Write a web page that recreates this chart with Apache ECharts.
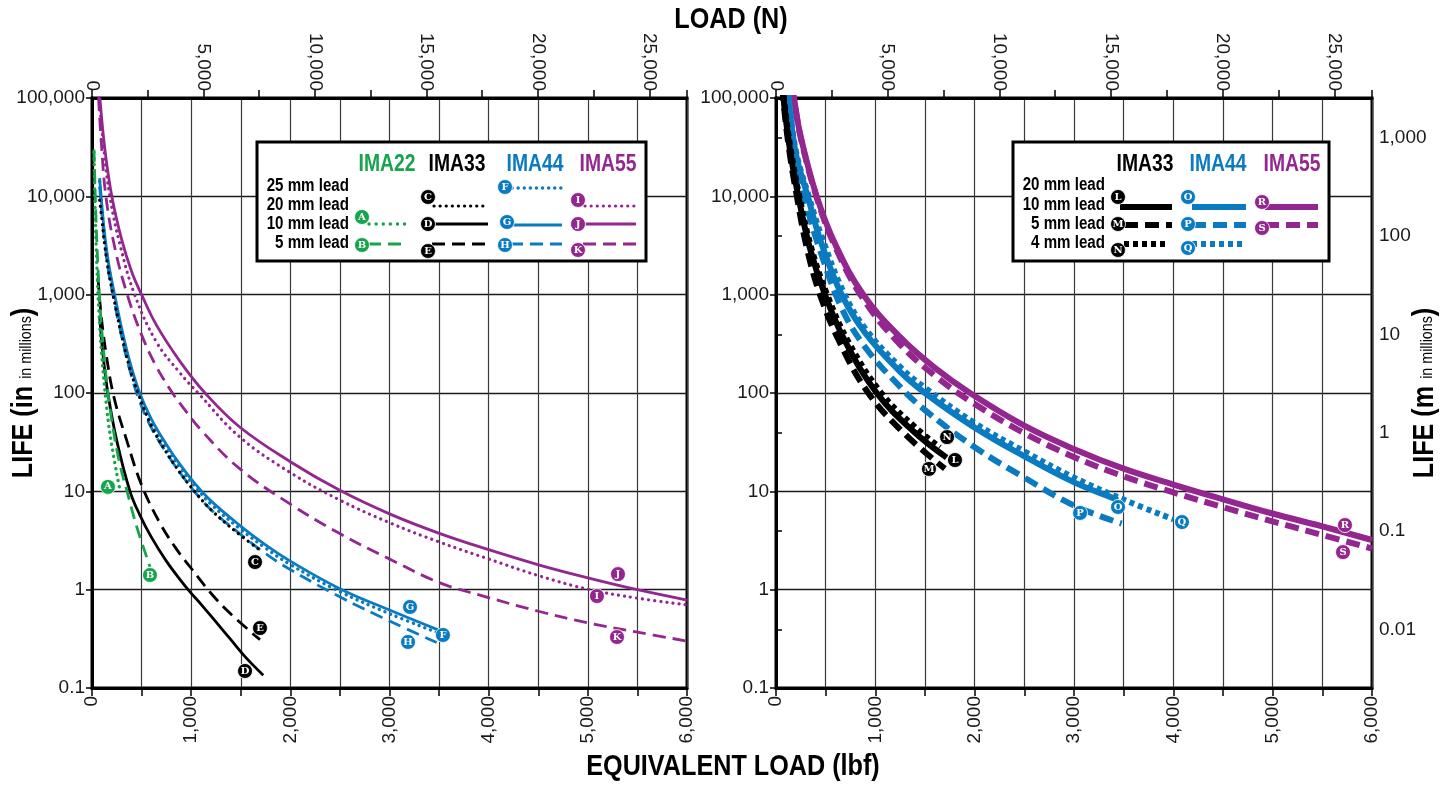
<!DOCTYPE html>
<html><head><meta charset="utf-8">
<script src="https://cdn.jsdelivr.net/npm/echarts@6/dist/echarts.min.js"></script>
<style>html,body{margin:0;padding:0;background:#fff}#c{width:1446px;height:786px}</style>
</head><body><div id="c"></div>
<script>
// ---------- DATA (equivalent load lbf, life in millions of inches) ----------
const lbfRange = [0, 6000];
const lifeRange = [0.1, 100000];
const LBF_TO_N = 4.44822;
const IN_TO_M = 0.0254;

// Left chart
const curveA = [[20,28000],[30,8500],[40,3600],[60,1050],[80,450],[100,230],[150,68],[200,29],[280,10.5]];            // IMA22 10 mm
const curveB = [[20,30000],[30,13000],[40,6000],[60,1900],[80,800],[100,420],[150,125],[200,52],[280,19],[350,10.3],[450,4.4],[585,1.71]]; // IMA22 5 mm
const curveC = [[77,9100],[100,5800],[128,3200],[170,1650],[212,1000],[300,380],[380,180],[464,100],[600,46],[750,25],[887,15.5],[1038,9.9],[1200,6.5],[1450,3.9],[1677,2.6]]; // IMA33 20 mm
const curveD = [[77,600],[110,250],[160,100],[249,33],[383,10],[484,5.7],[600,3.4],[750,1.95],[900,1.22],[988,0.95],[1100,0.71],[1250,0.47],[1400,0.31],[1550,0.205],[1727,0.135]]; // IMA33 10 mm
const curveE = [[60,1500],[90,650],[140,260],[220,92],[350,33],[500,11.6],[686,4.73],[850,2.6],[988,1.71],[1200,0.92],[1392,0.575],[1694,0.31]]; // IMA33 5 mm
const curveF = [[77,14200],[100,7400],[128,3800],[170,1860],[228,930],[300,420],[380,195],[481,93],[600,50],[750,28],[887,17.5],[1038,11.2],[1200,7.4],[1486,4.2],[1750,2.65],[2000,1.8],[2494,0.96],[3000,0.57],[3500,0.36]]; // IMA44 25 mm
const curveG = [[77,15300],[100,8000],[128,4100],[170,2000],[228,1000],[300,450],[380,210],[481,100],[600,54],[750,30],[887,18.8],[1038,12.0],[1200,8.0],[1486,4.54],[1750,2.85],[2000,1.95],[2494,1.03],[3000,0.62],[3490,0.39]]; // IMA44 10 mm
const curveH = [[77,12500],[100,6600],[128,3400],[170,1650],[228,820],[300,370],[380,172],[481,82],[600,44],[750,24.5],[887,15.5],[1038,9.8],[1200,6.5],[1486,3.74],[1750,2.33],[2000,1.6],[2494,0.85],[3000,0.48],[3476,0.29]]; // IMA44 5 mm
const curveI = [[72,100000],[120,30000],[180,10000],[280,3300],[430,1000],[650,330],[887,160],[1070,100],[1486,36],[2000,15.5],[2494,8.2],[3000,4.8],[3502,3.05],[4000,2.05],[4511,1.38],[5020,1.0],[5500,0.82],[6000,0.70]]; // IMA55 20 mm
const curveJ = [[80,100000],[130,30000],[200,10000],[300,3600],[400,1710],[500,1000],[650,490],[887,210],[1140,100],[1486,45.4],[2000,20],[2494,10.3],[3000,5.9],[3502,3.74],[4000,2.55],[4511,1.78],[5000,1.32],[5500,1.0],[6000,0.785]]; // IMA55 10 mm
const curveK = [[66,100000],[95,34000],[140,10000],[230,3000],[356,1000],[500,390],[650,185],[811,100],[887,78.5],[1100,42],[1486,17.1],[2000,7.4],[2494,3.74],[3000,2.05],[3502,1.18],[3912,0.88],[4511,0.6],[5000,0.46],[5500,0.37],[6000,0.30]]; // IMA55 5 mm

// Right chart
const curveL = [[70,130000],[80,90000],[140,30000],[225,10000],[340,3000],[493,1000],[700,330],[1014,100],[1380,41],[1718,22]];   // IMA33 10 mm
const curveM = [[66,130000],[76,90000],[132,30000],[210,10000],[310,3000],[443,1000],[640,330],[929,100],[1300,38],[1700,17]];    // IMA33 5 mm
const curveN = [[73,130000],[84,90000],[148,30000],[235,10000],[355,3000],[515,1000],[730,330],[1060,100],[1400,45],[1650,28]];   // IMA33 4 mm
const curveO = [[115,130000],[124,100000],[200,27000],[320,10000],[450,3500],[661,1000],[900,405],[1248,165],[1500,100],[1993,45],[2500,22.7],[2997,12.4],[3396,8.5],[3440,8.1]]; // IMA44 10 mm
const curveP = [[112,130000],[121,100000],[200,21000],[320,7200],[450,2700],[661,730],[900,290],[1248,116],[1500,67],[1993,28.4],[2500,13.8],[2997,7.2],[3480,4.7]]; // IMA44 5 mm
const curveQ = [[118,130000],[128,100000],[200,29000],[330,10000],[460,3900],[680,1060],[900,450],[1248,185],[1500,113],[1993,50],[2500,25.5],[3000,13.8],[3530,8.0],[4000,5.2]]; // IMA44 4 mm
const curveR = [[165,130000],[181,100000],[250,40000],[410,10000],[600,3200],[879,1000],[1250,370],[1600,180],[1953,100],[2500,46.5],[2997,27],[3500,17.0],[3993,11.8],[4500,8.3],[4997,5.95],[5500,4.4],[6000,3.2]]; // IMA55 10 mm
const curveS = [[165,128000],[181,97000],[250,39000],[410,9700],[600,3000],[879,900],[1250,310],[1600,150],[1953,83],[2500,39],[2997,22.4],[3500,14.2],[3993,9.8],[4500,6.9],[4997,4.95],[5500,3.6],[6000,2.62]]; // IMA55 5 mm

// Letter tags placed at (lbf, life)
const leftTags = [['A',161,11.1],['B',585,1.41],['C',1644,1.91],['D',1543,0.149],['E',1694,0.407],
  ['F',3539,0.346],['G',3207,0.667],['H',3187,0.294],['I',5092,0.861],['J',5304,1.44],['K',5294,0.33]];
const rightTags = [['L',1802,20.8],['M',1540,16.9],['N',1722,35.6],['O',3443,6.93],['P',3061,6.03],
  ['Q',4087,4.87],['R',5728,4.54],['S',5708,2.41]];

// ---------- STYLE ----------
const FONT = "'Liberation Sans','Arial',sans-serif";
const SERIF = "'DejaVu Serif','Liberation Serif',serif";
const GREEN = '#17a44c', BLACK = '#000000', BLUE = '#0a7bc0', PURPLE = '#93278f';
const tagColor = {A:GREEN,B:GREEN,C:BLACK,D:BLACK,E:BLACK,F:BLUE,G:BLUE,H:BLUE,I:PURPLE,J:PURPLE,K:PURPLE,
  L:BLACK,M:BLACK,N:BLACK,O:BLUE,P:BLUE,Q:BLUE,R:PURPLE,S:PURPLE};
const LABEL_SIZE = 19;

function fmtNum(v){
  if (v >= 1) return String(Math.round(v)).replace(/\B(?=(\d{3})+(?!\d))/g, ',');
  return String(+v.toPrecision(2));
}
function isDecade(v){ const l = Math.log10(v); return Math.abs(l - Math.round(l)) < 1e-6; }

const chart = echarts.init(document.getElementById('c'), null, {renderer:'canvas'});

const GL = {left:92, top:98, width:595, height:590};
const GR = {left:776, top:98, width:596, height:590};

function xBottom(gi){
  return {gridIndex:gi, type:'value', position:'bottom', min:lbfRange[0], max:lbfRange[1], interval:500,
    axisLine:{show:true, onZero:false, lineStyle:{color:'#000', width:3}},
    axisTick:{show:true, length:8, lineStyle:{color:'#000', width:1.5}},
    axisLabel:{rotate:90, margin:8, fontFamily:FONT, fontSize:LABEL_SIZE, color:'#1a1a1a',
      formatter:v => (v % 1000 === 0 ? fmtNum(v) : '')},
    splitLine:{show:true, lineStyle:{color:'#3a3a3a', width:1.2}}};
}
function xTop(gi){
  return {gridIndex:gi, type:'value', position:'top', min:0, max:lbfRange[1]*LBF_TO_N, interval:2500,
    axisLine:{show:true, onZero:false, lineStyle:{color:'#000', width:3}},
    axisTick:{show:true, length:8, lineStyle:{color:'#000', width:1.5}},
    axisLabel:{rotate:90, margin:7, fontFamily:FONT, fontSize:LABEL_SIZE, color:'#1a1a1a',
      formatter:v => (Math.abs(v % 5000) < 1e-6 ? fmtNum(v) : '')},
    splitLine:{show:false}};
}
function yLeft(gi){
  return {gridIndex:gi, type:'log', logBase:10, min:lifeRange[0], max:lifeRange[1], position:'left',
    axisLine:{show:true, onZero:false, lineStyle:{color:'#000', width:3}},
    axisTick:{show:true, length:6, lineStyle:{color:'#000', width:1.5}},
    axisLabel:{margin:7, fontFamily:FONT, fontSize:LABEL_SIZE, color:'#1a1a1a', formatter:v => isDecade(v) ? fmtNum(v) : ''},
    splitLine:{show:true, lineStyle:{color:'#1a1a1a', width:1.3}}};
}

const option = {
  animation:false,
  backgroundColor:'#fff',
  grid:[Object.assign({show:true, borderColor:'#000', borderWidth:3, backgroundColor:'#fff', outerBoundsMode:'none'}, GL),
        Object.assign({show:true, borderColor:'#000', borderWidth:3, backgroundColor:'#fff', outerBoundsMode:'none'}, GR)],
  xAxis:[xBottom(0), xTop(0), xBottom(1), xTop(1)],
  yAxis:[
    yLeft(0),
    {gridIndex:0, type:'log', logBase:10, min:lifeRange[0], max:lifeRange[1], position:'right',
      axisLine:{show:true, lineStyle:{color:'#000', width:3}}, axisTick:{show:false}, axisLabel:{show:false}, splitLine:{show:false}},
    yLeft(1),
    {gridIndex:1, type:'log', logBase:10, min:lifeRange[0]*IN_TO_M, max:lifeRange[1]*IN_TO_M, position:'right',
      axisLine:{show:true, lineStyle:{color:'#000', width:3}},
      axisTick:{show:true, length:6, lineStyle:{color:'#000', width:1.5}},
      axisLabel:{margin:7, fontFamily:FONT, fontSize:LABEL_SIZE, color:'#1a1a1a', formatter:v => isDecade(v) ? fmtNum(v) : ''},
      splitLine:{show:false}}
  ],
  graphic:[],
  series:[]
};

// ----- curves -----
const DOT_L = [0.1, 6], DASH_L = [13, 7];
const DOT_R = [5, 4], DASH_R = [14, 7];
function curve(data, gi, color, width, dash, cap){
  return {type:'line', xAxisIndex:gi*2, yAxisIndex:gi*2, data:data, smooth:0.4, symbol:'none', showSymbol:false,
    silent:true, clip:true, z:3,
    lineStyle:{color:color, width:width, type:dash || 'solid', cap:cap || 'butt', join:'round'}};
}
option.series.push(
  curve(curveK, 0, PURPLE, 2.8, DASH_L),
  curve(curveI, 0, PURPLE, 3.2, DOT_L, 'round'),
  curve(curveJ, 0, PURPLE, 2.8),
  curve(curveH, 0, BLUE, 2.8, DASH_L),
  curve(curveF, 0, BLUE, 3.4, DOT_L, 'round'),
  curve(curveG, 0, BLUE, 2.8),
  curve(curveC, 0, BLACK, 3.2, DOT_L, 'round'),
  curve(curveE, 0, BLACK, 2.8, DASH_L),
  curve(curveD, 0, BLACK, 2.8),
  curve(curveB, 0, GREEN, 2.8, DASH_L),
  curve(curveA, 0, GREEN, 3.4, DOT_L, 'round'),

  curve(curveS, 1, PURPLE, 6, DASH_R),
  curve(curveR, 1, PURPLE, 6),
  curve(curveP, 1, BLUE, 6, DASH_R),
  curve(curveQ, 1, BLUE, 6, DOT_R),
  curve(curveO, 1, BLUE, 6),
  curve(curveM, 1, BLACK, 6, DASH_R),
  curve(curveN, 1, BLACK, 6, DOT_R),
  curve(curveL, 1, BLACK, 6)
);

function tagSeries(tags, gi){
  return {type:'scatter', xAxisIndex:gi*2, yAxisIndex:gi*2, silent:true, z:10, symbol:'circle', symbolSize:15,
    data:tags.map(t => ({value:[t[1], t[2]], name:t[0], itemStyle:{color:tagColor[t[0]], opacity:1, borderColor:'#fff', borderWidth:0.8}})),
    itemStyle:{opacity:1},
    label:{show:true, position:'inside', formatter:p => p.name, color:'#fff', fontFamily:SERIF, fontWeight:'bold', fontSize:10}};
}
option.series.push(tagSeries(leftTags, 0), tagSeries(rightTags, 1));

// ----- titles and axis names (condensed with scaleX) -----
const G = option.graphic;
const COND = 0.84;
function gTitle(text, x, y, rot){
  G.push({type:'text', z:100, x:x, y:y, rotation:rot || 0, scaleX:COND,
    style:{text:text, x:0, y:0, align:'center', verticalAlign:'middle',
      fontFamily:FONT, fontWeight:'bold', fontSize:30, fill:'#000',
      rich:{b:{fontFamily:FONT, fontWeight:'bold', fontSize:30, fill:'#000'},
            s:{fontFamily:FONT, fontSize:17, fill:'#000', padding:[5,0,0,0]}}}});
}
gTitle('LOAD (N)', 731, 20);
gTitle('EQUIVALENT LOAD (lbf)', 733, 767);
gTitle('{b|LIFE (in }{s|in millions}{b|)}', 24, 393, Math.PI/2);
gTitle('{b|LIFE (m }{s|in millions}{b|)}', 1425, 393, Math.PI/2);

// ----- legends -----
function gText(t, x, y, size, color, align){
  G.push({type:'text', z:101, x:x, y:y, scaleX:COND, style:{text:t, x:0, y:0, align:align||'center', verticalAlign:'middle',
    fontFamily:FONT, fontWeight:'bold', fontSize:size, fill:color}});
}
function gLine(x1, x2, y, color, w, dash, cap){
  G.push({type:'line', z:101, shape:{x1:x1, y1:y, x2:x2, y2:y},
    style:{stroke:color, lineWidth:w, lineDash:dash || null, lineCap:cap || 'butt'}});
}
function gTag(letter, x, y, color){
  G.push({type:'circle', z:102, shape:{cx:x, cy:y, r:7.5}, style:{fill:color, stroke:'#fff', lineWidth:0.8}});
  G.push({type:'text', z:103, style:{text:letter, x:x, y:y+0.5, align:'center', verticalAlign:'middle',
    fontFamily:SERIF, fontWeight:'bold', fontSize:10, fill:'#fff'}});
}
// left legend
G.push({type:'rect', z:100, shape:{x:257, y:142, width:389, height:119}, style:{fill:'#fff', stroke:'#000', lineWidth:3}});
gText('IMA22', 387, 165, 23, GREEN); gText('IMA33', 457, 165, 23, BLACK);
gText('IMA44', 535, 165, 23, BLUE);  gText('IMA55', 608, 165, 23, PURPLE);
gText('25 mm lead', 349, 186, 18, '#000', 'right'); gText('20 mm lead', 349, 205, 18, '#000', 'right');
gText('10 mm lead', 349, 224, 18, '#000', 'right'); gText('5 mm lead', 349, 243, 18, '#000', 'right');
gLine(369, 407, 224, GREEN, 3.4, [0.1, 7], 'round'); gTag('A', 362, 217, GREEN);
gLine(368, 407, 244, GREEN, 2.8, [13, 7]);            gTag('B', 362, 245, GREEN);
gLine(434, 488, 206, BLACK, 3.2, [0.1, 6], 'round');   gTag('C', 428, 197, BLACK);
gLine(432, 488, 224, BLACK, 2.8);                     gTag('D', 428, 224, BLACK);
gLine(432, 488, 244, BLACK, 2.8, [13, 7]);            gTag('E', 428, 251, BLACK);
gLine(512, 563, 188, BLUE, 3.4, [0.1, 6], 'round');    gTag('F', 505, 187, BLUE);
gLine(510, 562, 225, BLUE, 2.8);                      gTag('G', 507, 222, BLUE);
gLine(510, 562, 244, BLUE, 2.8, [13, 7]);             gTag('H', 505, 245, BLUE);
gLine(585, 637, 206, PURPLE, 3.2, [0.1, 6], 'round');  gTag('I', 578, 200, PURPLE);
gLine(583, 636, 224, PURPLE, 2.8);                    gTag('J', 578, 224, PURPLE);
gLine(583, 636, 244, PURPLE, 2.8, [13, 7]);           gTag('K', 578, 250, PURPLE);
// right legend
G.push({type:'rect', z:100, shape:{x:1013, y:142, width:316, height:119}, style:{fill:'#fff', stroke:'#000', lineWidth:3}});
gText('IMA33', 1145, 165, 23, BLACK); gText('IMA44', 1218, 165, 23, BLUE); gText('IMA55', 1292, 165, 23, PURPLE);
gText('20 mm lead', 1105, 185, 18, '#000', 'right'); gText('10 mm lead', 1105, 205, 18, '#000', 'right');
gText('5 mm lead', 1105, 224, 18, '#000', 'right');  gText('4 mm lead', 1105, 243, 18, '#000', 'right');
gLine(1120, 1172, 207, BLACK, 6);                gTag('L', 1118, 197, BLACK);
gLine(1124, 1172, 225, BLACK, 6, [14, 7]);       gTag('M', 1118, 224, BLACK);
gLine(1124, 1165, 244, BLACK, 6, [5, 4]);        gTag('N', 1118, 250, BLACK);
gLine(1192, 1246, 207, BLUE, 6);                 gTag('O', 1188, 197, BLUE);
gLine(1192, 1246, 225, BLUE, 6, [14, 7]);        gTag('P', 1188, 224, BLUE);
gLine(1192, 1242, 244, BLUE, 6, [5, 4]);         gTag('Q', 1188, 248, BLUE);
gLine(1265, 1318, 207, PURPLE, 6);               gTag('R', 1262, 202, PURPLE);
gLine(1265, 1318, 225, PURPLE, 6, [14, 7]);      gTag('S', 1262, 228, PURPLE);

chart.setOption(option);
</script></body></html>
